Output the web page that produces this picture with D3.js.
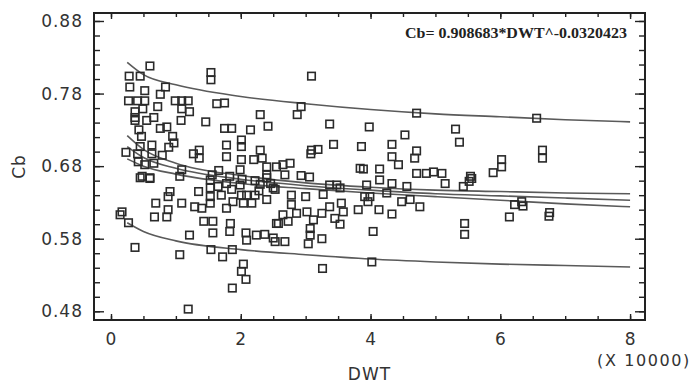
<!DOCTYPE html>
<html><head><meta charset="utf-8">
<script src="https://cdn.jsdelivr.net/npm/d3@7"></script>
<style>
html,body{margin:0;padding:0;background:#fff;}
svg{display:block;}
</style></head>
<body>
<svg id="chart" width="696" height="385"></svg>
<script>
// ---- data ----
const xTicks = [0, 2, 4, 6, 8];
const yTicks = [0.48, 0.58, 0.68, 0.78, 0.88];
const xLabel = "DWT";
const yLabel = "Cb";
const xUnit = "(X 10000)";
const equation = "Cb= 0.908683*DWT^-0.0320423";

const pointsX = [0.60,0.28,0.45,1.54,1.54,0.29,0.84,0.52,0.76,0.27,0.41,0.52,0.99,1.09,1.19,0.72,1.09,1.21,1.63,1.75,0.37,0.49,0.37,0.37,0.55,0.66,1.08,1.46,2.30,0.76,0.86,0.43,0.47,0.95,0.97,1.75,1.86,2.15,2.42,1.78,2.01,2.01,0.63,0.45,0.89,0.23,0.41,0.63,0.79,1.36,1.27,1.36,1.78,2.01,2.30,2.20,2.33,2.55,0.42,0.52,0.66,0.48,0.60,1.06,1.09,1.83,1.99,2.40,2.40,
3.09,2.93,2.87,4.71,3.37,3.98,5.31,5.37,4.53,3.43,3.86,4.33,4.71,4.68,4.33,4.43,3.09,3.19,3.08,2.65,2.76,2.68,2.93,3.06,3.84,3.89,4.14,4.71,4.86,4.97,5.10,5.15,5.43,
6.56,6.65,6.65,6.02,6.02,5.89,5.54,5.56,5.52,6.22,6.33,6.35,6.14,6.76,6.75,5.45,5.45,
0.45,0.60,1.35,0.91,0.88,0.69,0.88,1.09,0.67,0.86,1.29,1.40,1.53,1.53,1.53,1.53,1.65,1.78,1.78,1.88,1.99,2.01,2.09,2.22,2.04,2.17,2.40,2.50,2.40,0.17,0.14,0.27,0.37,1.06,1.21,1.43,1.57,1.57,1.84,1.83,1.54,1.72,1.87,2.04,2.01,2.08,1.87,2.08,2.09,2.24,2.37,2.50,2.53,2.55,1.19,
2.53,2.78,3.00,3.27,3.37,3.48,3.53,3.94,3.91,3.99,4.14,4.25,4.33,4.56,4.48,4.61,4.76,3.37,3.55,3.58,3.25,2.78,2.86,3.02,2.65,2.58,2.73,3.12,3.07,3.07,3.04,3.25,3.45,3.53,3.81,3.96,4.13,4.33,4.04,2.68,4.02,3.26,
1.56,1.66,2.22,2.30,1.86,2.02,2.46,1.70,2.28];
const pointsY = [0.818,0.804,0.804,0.809,0.799,0.789,0.789,0.784,0.779,0.770,0.770,0.770,0.770,0.770,0.770,0.762,0.759,0.755,0.766,0.767,0.755,0.759,0.747,0.743,0.743,0.747,0.743,0.741,0.751,0.732,0.734,0.730,0.721,0.721,0.712,0.732,0.732,0.730,0.735,0.709,0.716,0.707,0.709,0.707,0.706,0.699,0.697,0.697,0.695,0.702,0.697,0.691,0.693,0.689,0.702,0.689,0.691,0.679,0.686,0.682,0.684,0.666,0.663,0.666,0.675,0.666,0.675,0.679,0.668,
0.804,0.762,0.751,0.753,0.738,0.734,0.731,0.713,0.723,0.710,0.707,0.710,0.701,0.691,0.693,0.682,0.702,0.703,0.697,0.682,0.684,0.668,0.667,0.665,0.677,0.676,0.676,0.670,0.670,0.672,0.670,0.656,0.652,
0.746,0.702,0.691,0.689,0.679,0.671,0.666,0.663,0.659,0.627,0.631,0.625,0.610,0.616,0.611,0.601,0.586,
0.664,0.664,0.645,0.645,0.638,0.629,0.620,0.629,0.610,0.610,0.624,0.622,0.629,0.638,0.650,0.661,0.652,0.656,0.622,0.631,0.654,0.640,0.640,0.640,0.629,0.629,0.634,0.650,0.664,0.617,0.613,0.602,0.568,0.558,0.585,0.604,0.604,0.588,0.601,0.590,0.565,0.555,0.565,0.545,0.535,0.524,0.512,0.588,0.578,0.585,0.586,0.581,0.576,0.601,0.483,
0.648,0.640,0.638,0.641,0.654,0.654,0.650,0.654,0.638,0.638,0.661,0.643,0.656,0.652,0.631,0.634,0.624,0.624,0.629,0.617,0.615,0.627,0.615,0.617,0.613,0.601,0.604,0.606,0.594,0.585,0.573,0.580,0.608,0.600,0.620,0.631,0.620,0.614,0.590,0.576,0.548,0.539,
0.668,0.674,0.660,0.655,0.648,0.662,0.656,0.640,0.646];

// curves
const curveX    = [0.25, 0.5, 1, 2, 3, 4, 5, 6, 7, 8];
const fitY      = [0.707, 0.692, 0.677, 0.662, 0.653, 0.647, 0.642, 0.639, 0.636, 0.633];
const confUpper = [0.722, 0.703, 0.684, 0.667, 0.657, 0.651, 0.647, 0.645, 0.643, 0.642];
const confLower = [0.690, 0.680, 0.669, 0.656, 0.649, 0.643, 0.638, 0.633, 0.628, 0.624];
const predUpper = [0.823, 0.806, 0.792, 0.776, 0.766, 0.758, 0.752, 0.748, 0.744, 0.741];
const predLower = [0.602, 0.590, 0.577, 0.565, 0.558, 0.552, 0.548, 0.545, 0.543, 0.541];

// ---- drawing ----
const svg = d3.select("#chart");
const L = 94, R = 645, T = 13, B = 320;
const x = d3.scaleLinear().domain([-0.262, 8.23]).range([L, R]);
const y = d3.scaleLinear().domain([0.468, 0.891]).range([B, T]);

const font = "'DejaVu Sans', Verdana, sans-serif";
const axisColor = "#222";

const xMinor = d3.range(0, 8.001, 0.5);
const yMinor = d3.range(0.48, 0.8801, 0.02).map(v => +v.toFixed(2));

function styleAxis(g) {
  g.select(".domain").remove();
  g.selectAll("line").attr("stroke", axisColor).attr("stroke-width", 1.4);
}

// bottom
svg.append("g").attr("transform", `translate(0,${B})`)
  .call(d3.axisBottom(x).tickValues(xMinor).tickSizeInner(-4).tickSizeOuter(0).tickFormat(""))
  .call(styleAxis);
svg.append("g").attr("transform", `translate(0,${B})`)
  .call(d3.axisBottom(x).tickValues(xTicks).tickSizeInner(-6).tickSizeOuter(0).tickPadding(13).tickFormat(d3.format("d")))
  .call(styleAxis)
  .call(g => g.selectAll("text").attr("font-family", font).attr("font-size", 17).attr("fill", "#333").attr("letter-spacing", 1));
// top
svg.append("g").attr("transform", `translate(0,${T})`)
  .call(d3.axisTop(x).tickValues(xMinor).tickSizeInner(-4).tickSizeOuter(0).tickFormat(""))
  .call(styleAxis);
svg.append("g").attr("transform", `translate(0,${T})`)
  .call(d3.axisTop(x).tickValues(xTicks).tickSizeInner(-6).tickSizeOuter(0).tickFormat(""))
  .call(styleAxis);
// left
svg.append("g").attr("transform", `translate(${L},0)`)
  .call(d3.axisLeft(y).tickValues(yMinor).tickSizeInner(-6).tickSizeOuter(0).tickFormat(""))
  .call(styleAxis);
svg.append("g").attr("transform", `translate(${L},0)`)
  .call(d3.axisLeft(y).tickValues(yTicks).tickSizeInner(-10).tickSizeOuter(0).tickPadding(11).tickFormat(d3.format(".2f")))
  .call(styleAxis)
  .call(g => g.selectAll("text").attr("font-family", font).attr("font-size", 17).attr("fill", "#333").attr("letter-spacing", 1));
// right
svg.append("g").attr("transform", `translate(${R},0)`)
  .call(d3.axisRight(y).tickValues(yMinor).tickSizeInner(-6).tickSizeOuter(0).tickFormat(""))
  .call(styleAxis);
svg.append("g").attr("transform", `translate(${R},0)`)
  .call(d3.axisRight(y).tickValues(yTicks).tickSizeInner(-10).tickSizeOuter(0).tickFormat(""))
  .call(styleAxis);

// frame
svg.append("rect").attr("x", L).attr("y", T).attr("width", R - L).attr("height", B - T)
  .attr("fill", "none").attr("stroke", axisColor).attr("stroke-width", 2);

// curves
const line = d3.line().x(d => x(d[0])).y(d => y(d[1])).curve(d3.curveMonotoneX);
[predUpper, confUpper, fitY, confLower, predLower].forEach(arr => {
  svg.append("path")
    .datum(curveX.map((v, i) => [v, arr[i]]))
    .attr("d", line)
    .attr("fill", "none")
    .attr("stroke", "#5a5a5a")
    .attr("stroke-width", 1.6);
});

// points
const s = 7.5;
svg.append("g").selectAll("rect")
  .data(pointsX.map((v, i) => [v, pointsY[i]]))
  .join("rect")
  .attr("x", d => x(d[0]) - s / 2)
  .attr("y", d => y(d[1]) - s / 2)
  .attr("width", s).attr("height", s)
  .attr("fill", "none")
  .attr("stroke", "#2a2a2a")
  .attr("stroke-width", 1.6);

// equation
svg.append("text")
  .attr("x", 405).attr("y", 38)
  .attr("font-family", "'Liberation Serif', 'Times New Roman', serif")
  .attr("font-weight", "bold")
  .attr("font-size", 14)
  .attr("fill", "#222")
  .attr("textLength", 222).attr("lengthAdjust", "spacingAndGlyphs")
  .text(equation);

// axis titles
svg.append("text")
  .attr("x", (L + R) / 2).attr("y", 380)
  .attr("text-anchor", "middle")
  .attr("font-family", font).attr("font-size", 17).attr("fill", "#333").attr("letter-spacing", 1)
  .text(xLabel);
svg.append("text")
  .attr("transform", `translate(25,${(T + B) / 2}) rotate(-90)`)
  .attr("text-anchor", "middle")
  .attr("font-family", font).attr("font-size", 17).attr("fill", "#333").attr("letter-spacing", 1)
  .text(yLabel);
svg.append("text")
  .attr("x", 644).attr("y", 366)
  .attr("text-anchor", "middle")
  .attr("font-family", font).attr("font-size", 16).attr("fill", "#333").attr("letter-spacing", 1.6)
  .text(xUnit);
</script>
</body></html>
